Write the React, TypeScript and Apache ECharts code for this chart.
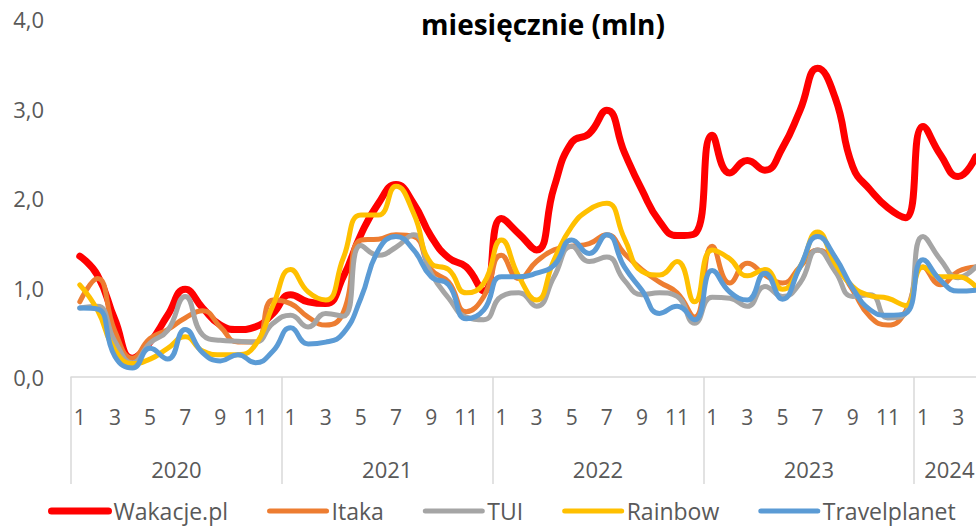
import { useEffect, useRef } from 'react';
import * as echarts from 'echarts';

const years = ['2020', '2021', '2022', '2023', '2024'];
const monthsPerYear = [12, 12, 12, 12, 4];
const yTicks = [0, 1, 2, 3, 4];
const seriesNames = ['Wakacje.pl', 'Itaka', 'TUI', 'Rainbow', 'Travelplanet'];

const wakacje = [
  1.35, 1.14, 0.64, 0.21, 0.39, 0.69, 0.98, 0.77, 0.58, 0.53, 0.56, 0.71,
  0.92, 0.84, 0.82, 1.12, 1.59, 1.94, 2.15, 1.94, 1.57, 1.33, 1.23, 0.96,
  1.77, 1.60, 1.42, 2.12, 2.62, 2.72, 2.98, 2.51, 2.09, 1.74, 1.58, 1.60,
  2.70, 2.28, 2.42, 2.31, 2.56, 2.98, 3.45, 3.12, 2.35, 2.09, 1.89, 1.78,
  2.80, 2.48, 2.24, 2.46,
];
const itaka = [
  0.84, 1.10, 0.51, 0.21, 0.43, 0.53, 0.66, 0.74, 0.56, 0.39, 0.39, 0.86,
  0.82, 0.67, 0.58, 0.72, 1.53, 1.54, 1.59, 1.57, 1.20, 1.06, 0.73, 0.90,
  1.36, 1.10, 1.29, 1.42, 1.46, 1.49, 1.59, 1.38, 1.20, 1.06, 0.94, 0.67,
  1.46, 1.05, 1.27, 1.14, 1.05, 1.23, 1.42, 1.27, 0.97, 0.67, 0.58, 0.73,
  1.23, 1.03, 1.18, 1.23,
];
const tui = [
  0.77, 0.79, 0.40, 0.16, 0.38, 0.52, 0.90, 0.47, 0.41, 0.40, 0.39, 0.60,
  0.69, 0.56, 0.71, 0.68, 1.47, 1.36, 1.45, 1.59, 1.16, 0.88, 0.67, 0.64,
  0.90, 0.94, 0.79, 1.12, 1.46, 1.29, 1.34, 1.08, 0.92, 0.94, 0.90, 0.60,
  0.89, 0.88, 0.79, 1.01, 0.90, 1.05, 1.42, 1.18, 0.90, 0.92, 0.66, 0.71,
  1.57, 1.31, 1.11, 1.23,
];
const rainbow = [
  1.03, 0.75, 0.30, 0.15, 0.20, 0.32, 0.45, 0.29, 0.25, 0.25, 0.36, 0.80,
  1.20, 0.95, 0.86, 1.33, 1.81, 1.81, 2.13, 1.83, 1.27, 1.20, 0.94, 1.05,
  1.53, 1.12, 0.86, 1.31, 1.68, 1.87, 1.94, 1.55, 1.18, 1.14, 1.29, 0.84,
  1.42, 1.32, 1.13, 1.20, 0.98, 1.23, 1.62, 1.27, 1.01, 0.91, 0.88, 0.80,
  1.23, 1.12, 1.12, 1.01,
];
const travelplanet = [
  0.77, 0.76, 0.23, 0.10, 0.32, 0.20, 0.53, 0.27, 0.18, 0.25, 0.16, 0.29,
  0.55, 0.37, 0.39, 0.49, 0.88, 1.42, 1.57, 1.42, 1.12, 1.03, 0.65, 0.75,
  1.12, 1.12, 1.16, 1.25, 1.53, 1.38, 1.59, 1.23, 0.97, 0.71, 0.79, 0.64,
  1.19, 0.95, 0.86, 1.16, 0.87, 1.23, 1.57, 1.34, 0.99, 0.75, 0.69, 0.71,
  1.31, 1.08, 0.96, 0.97,
];

const seriesData = [wakacje, itaka, tui, rainbow, travelplanet];
const colors = ['#FF0000', '#ED7D31', '#A5A5A5', '#FFC000', '#5B9BD5'];
const widths = [7, 5, 5, 5, 5];

const FONT = "'Open Sans', sans-serif";
const TEXT = '#595959';
const AXIS = '#D9D9D9';

export default function App() {
  const ref = useRef<HTMLDivElement>(null);

  useEffect(() => {
    const chart = echarts.init(ref.current!, null, { renderer: 'svg' });

    const categories: string[] = [];
    const boundaries: number[] = [];
    const centers: number[] = [];
    let acc = 0;
    years.forEach((_, i) => {
      boundaries.push(acc);
      centers.push(acc + monthsPerYear[i] / 2);
      for (let m = 1; m <= monthsPerYear[i]; m++) categories.push(String(m));
      acc += monthsPerYear[i];
    });
    const total = categories.length;

    chart.setOption({
      animation: false,
      backgroundColor: '#ffffff',
      title: {
        text: 'miesięcznie (mln)',
        left: 'center',
        top: 5,
        textStyle: { fontFamily: FONT, fontWeight: 'bold', fontSize: 28, color: '#000000' },
      },
      legend: {
        data: seriesNames,
        left: 48,
        top: 496,
        padding: 0,
        orient: 'horizontal',
        itemWidth: 57,
        itemHeight: 8,
        itemGap: 39,
        lineStyle: { width: 'inherit', cap: 'round' },
        itemStyle: { opacity: 0 },
        textStyle: { fontFamily: FONT, fontSize: 23, color: TEXT, lineHeight: 30 },
      },
      grid: { left: 71, right: 101.5, top: 19, bottom: 150, containLabel: false },
      xAxis: [
        {
          type: 'category',
          data: categories,
          boundaryGap: true,
          position: 'bottom',
          axisLine: { show: true, lineStyle: { color: AXIS, width: 1.5 } },
          axisTick: { show: false },
          splitLine: { show: false },
          axisLabel: {
            interval: 1,
            margin: 29,
            fontFamily: FONT,
            fontSize: 21,
            color: TEXT,
          },
        },
        {
          type: 'value',
          min: 0,
          max: total,
          position: 'bottom',
          axisLine: { show: false },
          splitLine: { show: false },
          axisTick: {
            show: true,
            customValues: boundaries,
            length: 107,
            lineStyle: { color: AXIS, width: 1.5 },
          },
          axisLabel: {
            customValues: centers,
            margin: 81,
            fontFamily: FONT,
            fontSize: 22,
            color: TEXT,
            formatter: (v: number) => {
              const idx = centers.indexOf(v);
              return idx >= 0 ? years[idx] : '';
            },
          },
        },
      ],
      yAxis: {
        type: 'value',
        min: yTicks[0],
        max: yTicks[yTicks.length - 1],
        interval: 1,
        axisLine: { show: false },
        axisTick: { show: false },
        splitLine: { show: false },
        axisLabel: {
          margin: 27,
          fontFamily: FONT,
          fontSize: 22,
          color: TEXT,
          formatter: (v: number) => v.toFixed(1).replace('.', ','),
        },
      },
      series: seriesNames.map((name, i) => ({
        name,
        type: 'line',
        xAxisIndex: 0,
        data: seriesData[i],
        smooth: 0.5,
        symbol: 'none',
        showSymbol: false,
        color: colors[i],
        lineStyle: { color: colors[i], width: widths[i], cap: 'round', join: 'round' },
        emphasis: { disabled: true },
      })),
    });

    return () => chart.dispose();
  }, []);

  return (
    <div
      style={{
        position: 'absolute',
        left: 0,
        top: 0,
        width: 976,
        height: 527,
        overflow: 'hidden',
        background: '#ffffff',
      }}
    >
      <div ref={ref} style={{ width: 1086, height: 527 }} />
    </div>
  );
}
